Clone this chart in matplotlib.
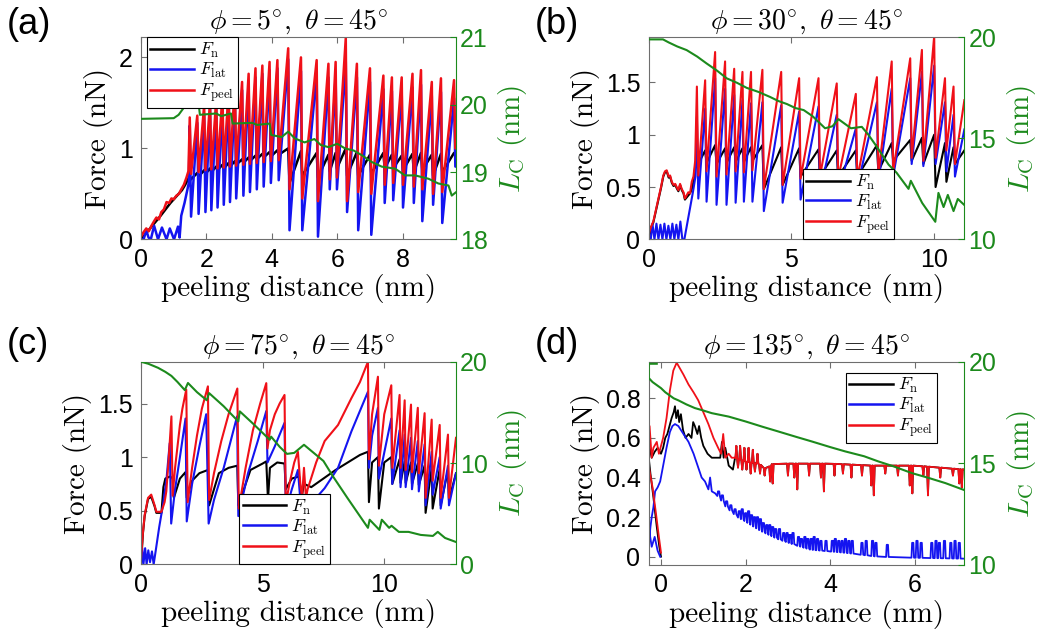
import numpy as np
import matplotlib.pyplot as plt

plt.rcParams['font.family'] = 'Liberation Sans'
plt.rcParams['mathtext.fontset'] = 'cm'

RED = '#f01018'
BLUE = '#1414f0'
BLACK = '#000000'
GREEN = '#1c8a1c'
BOX = '#6e6e6e'

# ---------------- (a) phi = 5 deg ----------------
slip_a = [1.49, 1.72, 1.93, 2.11, 2.30, 2.49, 2.68, 2.87, 3.09, 3.29, 3.50, 3.71, 3.93, 4.17, 4.50,
          4.89, 5.37, 5.73, 5.95, 6.26, 6.60, 7.00, 7.41, 7.67, 7.97, 8.30, 8.56, 8.89, 9.17, 9.57]
peel_pk_a = [1.34, 1.36, 1.47, 1.51, 1.53, 1.58, 1.64, 1.69, 1.73, 1.82, 1.88, 1.91, 1.95, 1.97, 2.10,
             2.00, 1.97, 1.93, 1.95, 2.21, 1.93, 1.88, 1.80, 1.78, 1.78, 1.82, 1.86, 1.73, 1.77, 1.75]
peel_tr_a = [0.72, 0.74, 0.76, 0.77, 0.78, 0.79, 0.80, 0.81, 0.82, 0.83, 0.84, 0.85, 0.86, 0.87, 0.55,
             0.45, 0.42, 0.66, 0.68, 0.42, 0.52, 0.50, 0.60, 0.62, 0.60, 0.58, 0.55, 0.50, 0.52, 1.00]
lat_pk_a = [1.25, 1.28, 1.38, 1.43, 1.45, 1.50, 1.55, 1.60, 1.64, 1.72, 1.78, 1.82, 1.86, 1.88, 1.98,
            1.85, 1.82, 1.78, 1.80, 1.95, 1.78, 1.73, 1.65, 1.63, 1.63, 1.67, 1.70, 1.58, 1.62, 1.55]
lat_tr_a = [0.25, 0.28, 0.30, 0.32, 0.35, 0.38, 0.41, 0.45, 0.48, 0.52, 0.55, 0.58, 0.62, 0.65, 0.10,
            0.10, 0.03, 0.55, 0.55, 0.30, 0.10, 0.05, 0.40, 0.43, 0.35, 0.40, 0.20, 0.38, 0.18, 0.80]
n_pk_a = [0.70, 0.73, 0.76, 0.78, 0.80, 0.82, 0.84, 0.86, 0.88, 0.90, 0.92, 0.94, 0.96, 0.98, 1.00,
          0.97, 0.95, 0.93, 0.95, 1.00, 0.96, 0.93, 0.95, 0.93, 0.92, 0.94, 0.95, 0.93, 0.94, 0.95]
n_tr_a = [0.66, 0.69, 0.72, 0.74, 0.76, 0.78, 0.80, 0.82, 0.84, 0.86, 0.88, 0.90, 0.91, 0.93, 0.62,
          0.70, 0.68, 0.75, 0.78, 0.70, 0.70, 0.72, 0.78, 0.78, 0.76, 0.74, 0.76, 0.70, 0.74, 0.93]
peel_pre_x_a = [0.0, 0.08, 0.16, 0.24, 0.32, 0.40, 0.47, 0.55, 0.62, 0.70, 0.78, 0.86, 0.93, 1.00,
                1.08, 1.16, 1.23, 1.31, 1.39, 1.45]
peel_pre_y_a = [0.03, 0.08, 0.12, 0.09, 0.15, 0.20, 0.24, 0.22, 0.30, 0.33, 0.41, 0.40, 0.45, 0.44,
                0.48, 0.50, 0.55, 0.60, 0.68, 0.75]
lat_pre_x_a = [0.0, 0.08, 0.16, 0.23, 0.30, 0.40, 0.52, 0.64, 0.78, 0.88, 1.01, 1.13, 1.18, 1.23,
               1.33, 1.42, 1.46]
lat_pre_y_a = [0.0, 0.0, 0.10, 0.02, 0.0, 0.15, 0.0, 0.13, 0.0, 0.12, 0.0, 0.14, 0.02, 0.26,
               0.40, 0.55, 0.62]
n_pre_x_a = [0.0, 0.3, 0.6, 0.9, 1.1, 1.25, 1.35, 1.45]
n_pre_y_a = [0.0, 0.13, 0.26, 0.40, 0.48, 0.54, 0.60, 0.67]
end_x_a = 9.63
lc_x_a = [0.0, 1.0, 1.15, 1.3, 1.45, 1.55, 1.62, 1.75, 1.8, 2.3, 2.45, 2.75, 2.8, 3.4, 3.55, 3.93,
          3.98, 4.3, 4.5, 4.7, 5.0, 5.3, 5.5, 5.73, 6.0, 6.24, 6.5, 6.75, 7.05, 7.36, 7.77, 8.07,
          8.38, 8.79, 9.09, 9.4, 9.5, 9.63]
lc_y_a = [19.79, 19.80, 19.85, 19.95, 20.05, 20.07, 20.0, 20.07, 19.85, 19.87, 19.83, 19.87, 19.72,
          19.73, 19.70, 19.72, 19.55, 19.52, 19.60, 19.50, 19.44, 19.49, 19.40, 19.37, 19.42, 19.35,
          19.32, 19.25, 19.15, 19.08, 19.05, 18.95, 18.95, 18.90, 18.83, 18.80, 18.65, 18.70]

# ---------------- (b) phi = 30 deg ----------------
slip_b = [1.69, 1.98, 2.33, 2.68, 3.00, 3.29, 3.59, 3.99, 4.65, 5.28, 5.96, 6.60, 7.27, 8.01, 8.53,
          9.18, 9.59, 10.02, 10.40, 10.70]
peel_pk_b = [1.46, 1.52, 1.79, 1.70, 1.63, 1.60, 1.60, 1.62, 1.60, 1.54, 1.54, 1.49, 1.39, 1.55,
             1.70, 1.73, 1.81, 1.94, 1.54, 1.46]
peel_tr_b = [0.61, 0.65, 0.60, 0.62, 0.65, 0.64, 0.66, 0.48, 0.52, 0.58, 0.60, 0.58, 0.58, 0.62,
             0.65, 0.78, 0.75, 0.78, 0.85, 0.72]
lat_pk_b = [1.17, 1.25, 1.54, 1.44, 1.38, 1.33, 1.30, 1.31, 1.28, 1.22, 1.27, 1.19, 1.06, 1.31,
            1.44, 1.54, 1.60, 1.66, 1.31, 1.19]
lat_tr_b = [0.39, 0.36, 0.33, 0.33, 0.35, 0.36, 0.36, 0.27, 0.35, 0.38, 0.45, 0.45, 0.50, 0.55,
            0.60, 0.72, 0.70, 0.72, 0.65, 0.60]
n_pk_b = [0.80, 0.85, 0.90, 0.87, 0.88, 0.87, 0.88, 0.90, 0.88, 0.87, 0.86, 0.85, 0.85, 0.90,
          0.92, 0.95, 0.97, 1.00, 0.92, 0.88]
n_tr_b = [0.72, 0.73, 0.72, 0.73, 0.74, 0.74, 0.75, 0.48, 0.52, 0.60, 0.60, 0.60, 0.60, 0.65,
          0.75, 0.75, 0.72, 0.50, 0.55, 0.72]
peel_pre_x_b = [0.0, 0.08, 0.16, 0.25, 0.34, 0.43, 0.51, 0.57, 0.63, 0.70, 0.75, 0.81, 0.87, 0.93,
                0.98, 1.04, 1.10, 1.16, 1.22, 1.27, 1.33, 1.39, 1.45, 1.51, 1.57, 1.63]
peel_pre_y_b = [0.05, 0.12, 0.17, 0.28, 0.39, 0.50, 0.61, 0.65, 0.66, 0.60, 0.61, 0.55, 0.52, 0.53,
                0.50, 0.47, 0.53, 0.48, 0.45, 0.39, 0.42, 0.45, 0.44, 0.55, 0.60, 0.75]
lat_pre_x_b = [0.0, 0.07, 0.13, 0.2, 0.27, 0.34, 0.41, 0.48, 0.55, 0.62, 0.69, 0.76, 0.83, 0.9,
               0.97, 1.04, 1.11, 1.18, 1.25, 1.35, 1.45, 1.55, 1.64]
lat_pre_y_b = [0.0, 0.0, 0.15, 0.0, 0.15, 0.0, 0.14, 0.0, 0.15, 0.0, 0.13, 0.0, 0.15, 0.0, 0.14,
               0.0, 0.17, 0.0, 0.0, 0.15, 0.30, 0.45, 0.60]
# normal force sits under the peel curve while the lateral force is ~0
n_pre_x_b = [0.0, 0.08, 0.16, 0.25, 0.34, 0.43, 0.51, 0.57, 0.63, 0.70, 0.75, 0.81, 0.87, 0.93,
             0.98, 1.04, 1.10, 1.16, 1.22, 1.27, 1.33, 1.39, 1.45, 1.51, 1.57, 1.63]
n_pre_y_b = [0.0, 0.11, 0.16, 0.27, 0.38, 0.49, 0.60, 0.64, 0.65, 0.59, 0.60, 0.54, 0.51, 0.52,
             0.49, 0.46, 0.52, 0.47, 0.44, 0.38, 0.40, 0.42, 0.44, 0.48, 0.55, 0.70]
end_x_b = 11.08
end_b = (1.33, 1.05, 0.85)  # peel, lat, n
lc_x_b = [0.0, 0.5, 0.7, 1.0, 1.33, 1.7, 2.03, 2.4, 2.74, 3.1, 3.44, 3.85, 4.26, 4.55, 4.85, 5.15,
          5.44, 5.75, 6.19, 6.45, 6.66, 7.1, 7.48, 7.7, 8.0, 8.42, 8.7, 9.12, 9.2, 9.6, 10.06, 10.17,
          10.35, 10.5, 10.7, 10.85, 11.08]
lc_y_b = [19.9, 19.9, 19.75, 19.55, 19.37, 19.05, 18.71, 18.35, 17.97, 17.75, 17.5, 17.3, 17.05,
          16.85, 16.7, 16.5, 16.4, 16.1, 15.5, 15.6, 15.95, 15.5, 15.57, 15.2, 14.6, 13.7, 13.3,
          12.5, 12.9, 11.8, 10.87, 12.3, 11.6, 12.2, 11.4, 12.0, 11.7]

# ---------------- (c) phi = 75 deg ----------------
peel_x_c = [0.0, 0.08, 0.15, 0.29, 0.42, 0.56, 0.63, 0.84, 0.97, 1.04, 1.14, 1.25, 1.30, 1.40, 1.50,
            1.60, 1.70, 1.86, 1.92, 2.10, 2.30, 2.50, 2.75, 2.80, 3.00, 3.30, 3.60, 3.96, 4.02, 4.30,
            4.60, 4.90, 5.15, 5.20, 5.30, 5.50, 5.70, 5.90, 5.95, 6.10, 6.30, 6.45, 6.55, 6.62, 6.70,
            6.78, 6.85, 7.20, 7.55, 8.10, 8.65, 9.00, 9.33, 9.37, 9.50, 9.74, 9.78, 10.00, 10.29,
            10.33, 10.63, 10.67, 10.84, 10.88, 11.10, 11.14, 11.38, 11.42, 11.66, 11.70, 11.95, 11.99,
            12.28, 12.32, 12.62, 12.66, 12.95]
peel_y_c = [0.05, 0.30, 0.46, 0.62, 0.65, 0.55, 0.49, 0.49, 0.58, 0.68, 0.99, 1.38, 0.64, 0.90, 1.10,
            1.30, 1.45, 1.63, 0.58, 0.90, 1.20, 1.45, 1.66, 0.60, 0.85, 1.15, 1.40, 1.64, 0.52, 0.90,
            1.25, 1.50, 1.69, 1.08, 1.25, 1.40, 1.50, 1.58, 0.56, 0.75, 0.95, 1.05, 0.75, 0.62, 0.90,
            0.62, 0.70, 0.95, 1.15, 1.30, 1.55, 1.70, 1.89, 0.98, 1.40, 1.75, 0.92, 1.40, 1.67, 0.90,
            1.58, 0.90, 1.53, 0.88, 1.49, 0.86, 1.46, 0.85, 1.41, 0.62, 1.35, 0.78, 1.30, 0.62, 1.21,
            0.62, 1.18]
lat_x_c = [0.0, 0.05, 0.10, 0.17, 0.23, 0.30, 0.37, 0.45, 0.52, 0.60, 0.75, 0.90, 1.05, 1.18, 1.24,
           1.40, 1.60, 1.83, 1.88, 2.10, 2.40, 2.68, 2.78, 3.00, 3.40, 3.95, 4.00, 4.40, 4.80, 5.15,
           5.20, 5.50, 5.90, 5.95, 6.20, 6.45, 6.55, 6.62, 6.70, 6.78, 7.20, 7.55, 8.10, 8.65, 9.33,
           9.37, 9.50, 9.74, 9.78, 10.29, 10.33, 10.63, 10.67, 10.84, 10.88, 11.10, 11.14, 11.38,
           11.42, 11.66, 11.70, 11.95, 11.99, 12.28, 12.32, 12.62, 12.66, 12.95]
lat_y_c = [0.0, 0.15, 0.0, 0.15, 0.0, 0.13, 0.02, 0.12, 0.0, 0.12, 0.35, 0.55, 0.80, 1.13, 0.38,
           0.70, 1.00, 1.36, 0.40, 0.75, 1.10, 1.40, 0.38, 0.60, 0.90, 1.38, 0.45, 0.85, 1.15, 1.43,
           0.95, 1.10, 1.32, 0.50, 0.70, 0.88, 0.60, 0.50, 0.60, 0.55, 0.62, 0.71, 0.90, 1.24, 1.61,
           0.90, 1.20, 1.46, 0.80, 1.36, 0.75, 1.25, 0.72, 1.21, 0.72, 1.18, 0.70, 1.15, 0.68, 1.12,
           0.55, 1.05, 0.65, 1.00, 0.52, 0.92, 0.55, 0.85]
n_x_c = [0.0, 0.08, 0.15, 0.29, 0.42, 0.56, 0.63, 0.84, 0.92, 1.00, 1.20, 1.30, 1.35, 1.60, 1.83,
         1.88, 2.10, 2.40, 2.75, 2.80, 3.20, 3.60, 3.96, 4.00, 4.50, 5.00, 5.15, 5.22, 5.30, 5.60,
         5.90, 5.95, 6.20, 6.50, 6.60, 6.70, 7.00, 7.50, 8.00, 8.50, 9.00, 9.33, 9.37, 9.50, 9.74,
         9.78, 10.00, 10.29, 10.33, 10.63, 10.67, 10.84, 10.88, 11.10, 11.14, 11.38, 11.42, 11.66,
         11.70, 11.95, 11.99, 12.28, 12.32, 12.62, 12.66, 12.95]
n_y_c = [0.0, 0.29, 0.45, 0.61, 0.63, 0.54, 0.48, 0.48, 0.72, 0.80, 0.82, 0.80, 0.62, 0.80, 0.86,
         0.62, 0.78, 0.85, 0.88, 0.55, 0.85, 0.90, 0.92, 0.55, 0.88, 0.94, 0.96, 0.60, 0.90, 0.95,
         0.94, 0.70, 0.80, 0.82, 0.62, 0.75, 0.72, 0.80, 0.88, 0.95, 1.02, 1.05, 0.58, 0.95, 1.00,
         0.52, 0.95, 1.00, 0.75, 0.98, 0.76, 0.96, 0.76, 0.95, 0.75, 0.94, 0.74, 0.92, 0.48, 0.90,
         0.52, 0.89, 0.55, 0.88, 0.60, 0.85]
lc_x_c = [0.0, 0.3, 0.7, 1.0, 1.25, 1.5, 1.8, 1.93, 2.3, 2.7, 2.8, 3.4, 4.0, 4.06, 4.6, 5.29, 5.35,
          5.7, 6.0, 6.3, 6.7, 7.0, 7.5, 7.9, 8.5, 9.33, 9.4, 9.8, 9.9, 10.2, 10.3, 10.6, 11.0, 11.5,
          12.0, 12.2, 12.5, 12.95]
lc_y_c = [20.0, 19.8, 19.4, 19.0, 18.6, 18.0, 17.2, 17.9, 17.0, 16.2, 16.9, 15.6, 14.1, 15.1, 13.9,
          12.3, 12.6, 11.6, 10.9, 11.0, 11.8, 11.2, 10.2, 8.65, 6.5, 3.6, 4.4, 3.4, 4.4, 3.6, 3.8,
          3.2, 3.2, 2.9, 2.8, 3.2, 2.6, 2.2]

# ---------------- (d) phi = 135 deg ----------------
peel_x_d = [0.0, -0.05, -0.12, -0.20, -0.26, -0.29, -0.27, -0.22, -0.18, -0.10, -0.05, 0.05, 0.13,
            0.21, 0.29, 0.37, 0.45, 0.53, 0.65, 0.77, 0.88, 1.00, 1.12, 1.24, 1.35, 1.42, 1.47, 1.52,
            1.60, 1.67]
peel_y_d = [0.02, 0.10, 0.22, 0.35, 0.42, 0.46, 0.66, 0.50, 0.55, 0.58, 0.52, 0.60, 0.70, 0.84,
            0.94, 0.98, 0.95, 0.92, 0.87, 0.83, 0.79, 0.73, 0.67, 0.60, 0.55, 0.52, 0.62, 0.50,
            0.52, 0.50]
tail_x_d = [1.75, 2.0, 2.3, 2.5, 2.7, 3.0, 4.0, 5.0, 6.0, 7.17]
tail_y_d = [0.50, 0.48, 0.47, 0.44, 0.48, 0.47, 0.47, 0.46, 0.46, 0.44]
spike_x_d = [1.78, 1.82, 1.87, 1.92, 1.97, 2.02, 2.07, 2.12, 2.17, 2.22, 2.28, 2.34, 2.45, 2.58,
             2.64, 3.00, 3.15, 3.22, 3.50, 3.78, 3.85, 4.10, 4.30, 4.50, 4.75, 4.97, 5.03, 5.30,
             5.60, 5.88, 5.94, 6.20, 6.31, 6.60, 6.90, 7.05, 7.11]
spike_y_d = [0.56, 0.45, 0.56, 0.44, 0.55, 0.44, 0.55, 0.42, 0.54, 0.43, 0.52, 0.42, 0.41, 0.38,
             0.37, 0.41, 0.40, 0.34, 0.41, 0.40, 0.33, 0.41, 0.42, 0.40, 0.41, 0.36, 0.31, 0.42,
             0.41, 0.36, 0.32, 0.41, 0.31, 0.40, 0.41, 0.37, 0.35]
n_x_d = [0.0, -0.04, -0.10, -0.18, -0.25, -0.29, -0.27, -0.22, -0.15, -0.08, 0.0, 0.05, 0.10, 0.15,
         0.20, 0.25, 0.30, 0.33, 0.36, 0.40, 0.43, 0.47, 0.52, 0.58, 0.65, 0.72, 0.76, 0.80, 0.86,
         0.90, 0.95, 1.00, 1.10, 1.20, 1.30, 1.40, 1.44, 1.48, 1.52, 1.60, 1.70]
n_y_d = [0.0, 0.05, 0.15, 0.30, 0.42, 0.50, 0.55, 0.50, 0.53, 0.55, 0.52, 0.55, 0.60, 0.62, 0.66,
         0.70, 0.73, 0.76, 0.70, 0.74, 0.68, 0.72, 0.64, 0.60, 0.62, 0.60, 0.68, 0.66, 0.62, 0.66,
         0.60, 0.56, 0.52, 0.50, 0.50, 0.50, 0.58, 0.50, 0.55, 0.46, 0.44]
lat_x_d = [-0.02, -0.08, -0.15, -0.22, -0.27, -0.29, -0.28, -0.25, -0.22, -0.18, -0.14, -0.08, -0.02,
           0.06, 0.13, 0.21, 0.27, 0.33, 0.41, 0.53, 0.65, 0.77, 0.88, 0.96, 1.04, 1.12, 1.16, 1.20]
lat_y_d = [0.0, 0.03, 0.10, 0.05, 0.12, 0.16, 0.08, 0.15, 0.20, 0.25, 0.33, 0.35, 0.38, 0.47, 0.55,
           0.63, 0.66, 0.67, 0.66, 0.62, 0.58, 0.52, 0.45, 0.40, 0.38, 0.34, 0.40, 0.33]
lat_tail_x_d = [1.28, 1.40, 1.52, 1.67, 1.83, 2.0, 2.38, 2.77, 3.17, 3.56, 4.35, 5.13, 5.93, 7.17]
lat_tail_y_d = [0.32, 0.30, 0.26, 0.23, 0.20, 0.18, 0.13, 0.09, 0.06, 0.035, 0.02, 0.0, -0.005, -0.01]
pulse_x_d = [1.36, 1.45, 1.55, 1.65, 1.75, 1.85, 1.92, 2.0, 2.07, 2.14, 2.21, 2.28, 2.35, 2.42,
             2.50, 2.57, 2.64, 2.71, 2.80, 2.90, 2.98, 3.05, 3.12, 3.25, 3.32, 3.40, 3.47, 3.55,
             3.62, 3.70, 3.78, 3.90, 4.05, 4.12, 4.20, 4.28, 4.36, 4.44, 4.52, 4.75, 4.85, 5.00,
             5.08, 5.35, 5.95, 6.05, 6.15, 6.40, 6.50, 6.58, 6.70, 6.85, 6.95, 7.05]
pulse_y_d = [0.33, 0.31, 0.28, 0.26, 0.24, 0.23, 0.24, 0.22, 0.23, 0.21, 0.20, 0.20, 0.19, 0.17,
             0.16, 0.16, 0.15, 0.14, 0.14, 0.12, 0.12, 0.11, 0.12, 0.10, 0.09, 0.10, 0.09, 0.09,
             0.10, 0.09, 0.08, 0.08, 0.08, 0.09, 0.08, 0.08, 0.09, 0.08, 0.08, 0.07, 0.08, 0.08,
             0.07, 0.06, 0.07, 0.08, 0.07, 0.07, 0.08, 0.07, 0.08, 0.07, 0.08, 0.07]
lc_x_d = [-0.1, -0.29, -0.29, -0.2, -0.1, 0.0, 0.1, 0.2, 0.3, 0.41, 0.6, 0.8, 1.0, 1.2, 1.6, 2.0,
          2.4, 2.77, 3.2, 3.56, 4.0, 4.35, 4.8, 5.13, 5.5, 5.93, 6.3, 6.72, 7.15]
lc_y_d = [19.9, 19.9, 19.2, 19.0, 18.85, 18.7, 18.5, 18.35, 18.2, 18.1, 17.9, 17.72, 17.6, 17.47,
          17.3, 17.06, 16.8, 16.57, 16.3, 16.08, 15.8, 15.59, 15.35, 15.1, 14.85, 14.52, 14.3,
          14.03, 13.7]

titles = [r'$\phi = 5^{\circ},\ \theta = 45^{\circ}$', r'$\phi = 30^{\circ},\ \theta = 45^{\circ}$',
          r'$\phi = 75^{\circ},\ \theta = 45^{\circ}$', r'$\phi = 135^{\circ},\ \theta = 45^{\circ}$']
panel_tags = ['(a)', '(b)', '(c)', '(d)']
xlims = [(0, 9.63), (0, 11.08), (0, 12.95), (-0.29, 7.17)]
ylims = [(0, 2.22), (0, 1.93), (0, 1.89), (-0.042, 0.985)]
rlims = [(18, 21), (10, 20), (0, 20), (10, 20)]
xticks = [[0, 2, 4, 6, 8], [0, 5, 10], [0, 5, 10], [0, 2, 4, 6]]
yticks = [[0, 1, 2], [0, 0.5, 1, 1.5], [0, 0.5, 1, 1.5], [0, 0.2, 0.4, 0.6, 0.8]]
yticklabels = [['0', '1', '2'], ['0', '0.5', '1', '1.5'], ['0', '0.5', '1', '1.5'],
               ['0', '0.2', '0.4', '0.6', '0.8']]
rticks = [[18, 19, 20, 21], [10, 15, 20], [0, 10, 20], [10, 15, 20]]


def sawtooth(pre_x, pre_y, slips, peaks, troughs, end_x, end_y, drop):
    xs, ys = list(pre_x), list(pre_y)
    for s, p, t in zip(slips, peaks, troughs):
        xs += [s, s + drop]
        ys += [p, t]
    xs.append(end_x)
    ys.append(end_y)
    return xs, ys


def with_spikes(base_x, base_y, sx, sy, w):
    # narrow excursions from a baseline
    xs, ys = [base_x[0]], [base_y[0]]
    for x, y in sorted(zip(sx, sy)):
        b = np.interp(x, base_x, base_y)
        xs += [x - w, x, x + w]
        ys += [b, y, b]
    xs.append(base_x[-1])
    ys.append(base_y[-1])
    return xs, ys


def with_pulses(base_x, base_y, px, py, w):
    xs, ys = [base_x[0]], [base_y[0]]
    for x, y in sorted(zip(px, py)):
        b = np.interp(x, base_x, base_y)
        xs += [x - w, x - w / 2, x + w / 2, x + w]
        ys += [b, y, y, b]
    xs.append(base_x[-1])
    ys.append(base_y[-1])
    return xs, ys


curves = []
# (a)
pa = sawtooth(peel_pre_x_a, peel_pre_y_a, slip_a, peel_pk_a, peel_tr_a, end_x_a, peel_tr_a[-1], 0.04)
la = sawtooth(lat_pre_x_a, lat_pre_y_a, slip_a, lat_pk_a, lat_tr_a, end_x_a, lat_tr_a[-1], 0.04)
na = sawtooth(n_pre_x_a, n_pre_y_a, slip_a, n_pk_a, n_tr_a, end_x_a, n_tr_a[-1], 0.04)
curves.append((na, la, pa, (lc_x_a, lc_y_a), 1.8))
# (b)
pb = sawtooth(peel_pre_x_b, peel_pre_y_b, slip_b, peel_pk_b, peel_tr_b, end_x_b, end_b[0], 0.05)
lb = sawtooth(lat_pre_x_b, lat_pre_y_b, slip_b, lat_pk_b, lat_tr_b, end_x_b, end_b[1], 0.05)
nb = sawtooth(n_pre_x_b, n_pre_y_b, slip_b, n_pk_b, n_tr_b, end_x_b, end_b[2], 0.05)
curves.append((nb, lb, pb, (lc_x_b, lc_y_b), 1.5))
# (c)
curves.append(((n_x_c, n_y_c), (lat_x_c, lat_y_c), (peel_x_c, peel_y_c), (lc_x_c, lc_y_c), 1.5))
# (d)
tx, ty = with_spikes(tail_x_d, tail_y_d, spike_x_d, spike_y_d, 0.02)
pd_ = (peel_x_d + tx, peel_y_d + ty)
nd = (n_x_d + tx, n_y_d + ty)
ltx, lty = with_pulses(lat_tail_x_d, lat_tail_y_d, pulse_x_d, pulse_y_d, 0.03)
ld = (lat_x_d + ltx, lat_y_d + lty)
curves.append((nd, ld, pd_, (lc_x_d, lc_y_d), 1.3))

positions = [[0.1352, 0.626, 0.302, 0.3156], [0.622, 0.626, 0.3026, 0.3156],
             [0.1352, 0.1183, 0.302, 0.3165], [0.622, 0.1172, 0.3026, 0.3176]]
legend_spots = [('upper left', (0.018, 1.0)), ('lower left', (0.488, 0.0)),
                ('lower left', (0.311, 0.0)), ('upper right', (0.913, 0.946))]
tag_xy = [(0.006, 0.962), (0.513, 0.962), (0.006, 0.4625), (0.513, 0.4625)]

fig = plt.figure(figsize=(10.43, 6.4), dpi=100)

for i in range(4):
    ax = fig.add_axes(positions[i])
    (n_xy, l_xy, p_xy, lc_xy, lw) = curves[i]
    h1, = ax.plot(n_xy[0], n_xy[1], color=BLACK, lw=lw, label=r'$F_{\mathrm{n}}$')
    h2, = ax.plot(l_xy[0], l_xy[1], color=BLUE, lw=lw, label=r'$F_{\mathrm{lat}}$')
    h3, = ax.plot(p_xy[0], p_xy[1], color=RED, lw=lw, label=r'$F_{\mathrm{peel}}$')
    ax.set_xlim(*xlims[i])
    ax.set_ylim(*ylims[i])
    ax.set_xticks(xticks[i])
    ax.set_yticks(yticks[i], labels=yticklabels[i])
    ax.tick_params(direction='in', length=4, width=0.8, color=BOX, labelsize=18,
                   top=True, right=False, pad=6)
    for s in ['left', 'top', 'bottom']:
        ax.spines[s].set_color(BOX)
    ax.spines['right'].set_visible(False)
    ax.set_xlabel('peeling distance (nm)', fontfamily='cmr10', fontsize=21, labelpad=2)
    ax.set_ylabel('Force (nN)', fontfamily='cmr10', fontsize=21, labelpad=4)
    ax.set_title(titles[i], fontsize=20, pad=6)

    ax2 = ax.twinx()
    ax2.plot(lc_xy[0], lc_xy[1], color=GREEN, lw=1.5)
    ax2.set_ylim(*rlims[i])
    ax2.set_yticks(rticks[i])
    ax2.tick_params(direction='in', length=4, width=0.8, colors=GREEN, labelsize=18, pad=3)
    for s in ['left', 'top', 'bottom']:
        ax2.spines[s].set_visible(False)
    ax2.spines['right'].set_color(GREEN)
    ax2.set_ylabel(r'$L_{\mathrm{C}}$ (nm)', fontfamily='cmr10', fontsize=21, color=GREEN, labelpad=6)

    loc, anchor = legend_spots[i]
    leg = ax2.legend(handles=[h1, h2, h3], loc=loc, bbox_to_anchor=anchor, fontsize=13,
                     frameon=True, fancybox=False, framealpha=1, edgecolor='black',
                     handlelength=2.4, handletextpad=0.3, borderpad=0.2, labelspacing=0.05,
                     borderaxespad=0)
    leg.get_frame().set_linewidth(0.8)
    for h in leg.legend_handles:
        h.set_linewidth(1.8)

    fig.text(tag_xy[i][0], tag_xy[i][1], panel_tags[i], fontsize=26, va='center', ha='left')

fig.savefig('out.png', dpi=100)
